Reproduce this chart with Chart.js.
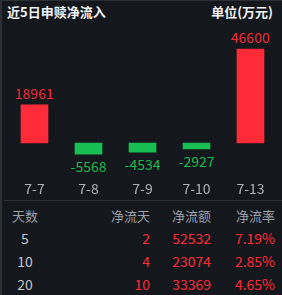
<!DOCTYPE html>
<html>
<head>
<meta charset="utf-8">
<script src="https://cdn.jsdelivr.net/npm/chart.js@4/dist/chart.umd.min.js"></script>
<style>
  html, body { margin: 0; padding: 0; background: #14171c; }
  body { width: 282px; height: 295px; position: relative; overflow: hidden;
         font-family: "Noto Sans CJK SC", "Noto Sans", sans-serif; }
  .frame { position: absolute; left: 0; top: 0; width: 280px; height: 294px;
           border-left: 2px solid #2c2f35; border-top: 1px solid #2c2f35; }
  .title { position: absolute; top: 3px; left: 7px; font-size: 13px; font-weight: bold; color: #f2f3f5; line-height: 18px; }
  .unit { position: absolute; top: 3px; right: 9px; font-size: 13px; font-weight: bold; color: #f2f3f5; line-height: 18px; }
  #chartBox { position: absolute; left: 0; top: 25px; width: 282px; height: 175px; }
  .sep { position: absolute; left: 4px; right: 0; top: 200px; height: 1px; background: #2b2f36; }
  .row { position: absolute; left: 0; width: 282px; height: 23px; line-height: 23px; font-size: 14px; }
  .row div { position: absolute; top: 0; white-space: nowrap; }
  .c0 { left: 11px; width: 28px; text-align: center; color: #c3c6cb; }
  .c1 { right: 132px; text-align: right; }
  .c2 { right: 71px; text-align: right; }
  .c3 { right: 7px; text-align: right; }
  .head div { color: #9b9fa6; font-size: 13px; }
  .val { color: #ff2b38; }
</style>
</head>
<body>
<div class="frame"></div>
<div class="title">近5日申赎净流入</div>
<div class="unit">单位(万元)</div>
<div id="chartBox"><canvas id="chart" width="282" height="175"></canvas></div>
<div class="sep"></div>
<div id="table"></div>
<script>
// 图表数据
const categories = ["7-7", "7-8", "7-9", "7-10", "7-13"];
const netInflow = [18961, -5568, -4534, -2927, 46600];

// 表格数据
const tableHeaders = ["天数", "净流天", "净流额", "净流率"];
const periodDays = ["5", "10", "20"];
const netDays = [2, 4, 10];
const netAmount = [52532, 23074, 33369];
const netRate = ["7.19%", "2.85%", "4.65%"];

const RED = "#ff2b38";
const GREEN = "#19be53";

// 柱子上的数值
const valueLabels = {
  id: "valueLabels",
  afterDatasetsDraw(chart) {
    const ctx = chart.ctx;
    const meta = chart.getDatasetMeta(0);
    ctx.save();
    ctx.font = '14px "Noto Sans CJK SC", sans-serif';
    ctx.textAlign = "center";
    ctx.textBaseline = "middle";
    meta.data.forEach((bar, i) => {
      const v = netInflow[i];
      ctx.fillStyle = v >= 0 ? RED : GREEN;
      const y = v >= 0 ? bar.y - 11 : bar.y + 12.5;
      ctx.fillText(String(v), bar.x, y);
    });
    ctx.restore();
  }
};

new Chart(document.getElementById("chart").getContext("2d"), {
  type: "bar",
  data: {
    labels: categories,
    datasets: [{
      data: netInflow,
      backgroundColor: netInflow.map(v => v >= 0 ? RED : GREEN),
      borderWidth: 0,
      barThickness: 27
    }]
  },
  options: {
    responsive: false,
    animation: false,
    layout: { padding: { left: 7.5, right: 4.5, top: 0, bottom: 0 } },
    plugins: { legend: { display: false }, tooltip: { enabled: false } },
    scales: {
      x: {
        grid: { display: false, drawTicks: false },
        border: { display: false },
        ticks: { color: "#aeb1b6", padding: 4, font: { size: 14, family: '"Noto Sans CJK SC", sans-serif' } },
        afterFit(scale) { scale.height = 24; }
      },
      y: { display: false, min: -16360, max: 58497 }
    }
  },
  plugins: [valueLabels]
});

// 表格
const table = document.getElementById("table");
function addRow(top, cells, cls) {
  const row = document.createElement("div");
  row.className = "row" + (cls ? " " + cls : "");
  row.style.top = top + "px";
  cells.forEach((c, i) => {
    const d = document.createElement("div");
    d.className = "c" + i + (i > 0 && cls !== "head" ? " val" : "");
    d.textContent = c;
    row.appendChild(d);
  });
  table.appendChild(row);
}
addRow(203.5, tableHeaders, "head");
periodDays.forEach((d, i) => {
  addRow(226.5 + i * 23, [d, String(netDays[i]), String(netAmount[i]), netRate[i]]);
});
</script>
</body>
</html>
